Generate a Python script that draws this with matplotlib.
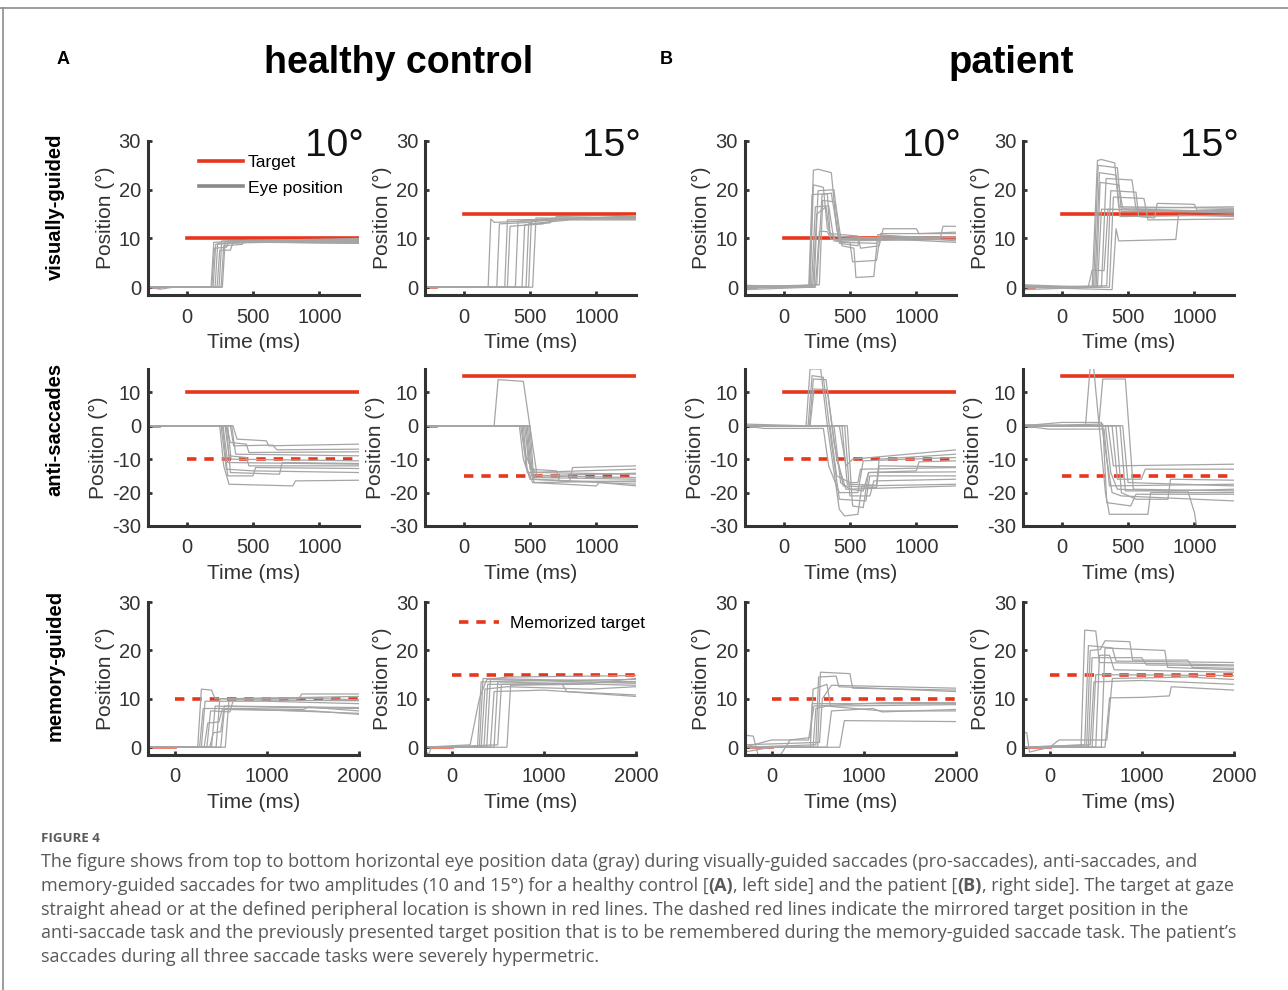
import matplotlib
matplotlib.use('Agg')
import matplotlib.pyplot as plt
from matplotlib.lines import Line2D

plt.rcParams['font.family'] = ['Liberation Sans', 'DejaVu Sans']
plt.rcParams['axes.unicode_minus'] = False

RED = '#e8361c'
GRAY = '#a5a5a5'
AXC = '#333333'

amplitudes = [10, 15]
row_names = ['visually-guided', 'anti-saccades', 'memory-guided']
group_names = ['healthy control', 'patient']

# eye traces as (time ms, position deg) breakpoints
hc_vg10 = [
    [(-290, 0), (185, 0), (205, 9.2), (400, 9.5), (1300, 9.5)],
    [(-290, 0.1), (200, 0), (220, 8.8), (500, 9.3), (1300, 9.0)],
    [(-290, 0), (215, 0), (235, 9.0), (1300, 9.6)],
    [(-290, 0), (230, 0), (250, 7.6), (330, 7.6), (350, 9.2), (1300, 9.2)],
    [(-290, 0), (245, 0), (265, 9.5), (1300, 9.8)],
    [(-290, 0), (260, 0), (280, 8.5), (420, 8.8), (440, 9.6), (1300, 9.4)],
    [(-290, 0), (-200, -0.4), (-100, 0), (270, 0), (290, 9.3), (1300, 9.0)],
    [(-290, 0), (190, 0), (210, 8.0), (300, 8.2), (320, 9.5), (1300, 10.0)],
]
hc_vg15 = [
    [(-290, 0), (185, 0), (205, 14.0), (230, 13.3), (400, 13.5), (700, 14.2), (1300, 14.3)],
    [(-290, 0), (250, 0), (270, 13.0), (500, 13.3), (600, 14.0), (1300, 14.5)],
    [(-290, 0), (310, 0), (330, 13.8), (1300, 14.2)],
    [(-290, 0), (330, 0), (350, 12.5), (600, 13.0), (700, 14.0), (1300, 14.0)],
    [(-290, 0), (390, 0), (410, 13.5), (1300, 14.5)],
    [(-290, 0), (440, 0), (460, 12.8), (650, 13.2), (700, 14.5), (1300, 14.2)],
    [(-290, 0), (490, 0), (510, 13.5), (1300, 14.7)],
    [(-290, 0), (520, 0), (545, 14.2), (1300, 14.0)],
    [(-290, 0), (470, 0), (490, 13.0), (800, 13.8), (1300, 13.8)],
]
pt_vg10 = [
    [(-290, 0), (195, 0), (225, 24), (260, 24.2), (360, 23.5), (400, 12), (430, 9.2), (700, 9.0), (740, 10.5), (1300, 10.2)],
    [(-290, -0.5), (200, 0), (225, 21), (300, 20.5), (330, 12), (400, 9.5), (1300, 9.8)],
    [(-290, 0.3), (190, 0.2), (215, 19), (330, 19.2), (350, 11), (560, 10.5), (580, 8), (720, 8.5), (750, 12.0), (1000, 12.0), (1020, 11.0), (1300, 11.3)],
    [(-290, 0), (230, 0), (260, 19.8), (380, 20), (420, 10), (1300, 10.3)],
    [(-290, 0.1), (270, 0.5), (295, 17.8), (390, 17.5), (440, 8.5), (530, 8.0), (545, 2.0), (680, 2.2), (710, 10.8), (1300, 9.5)],
    [(-290, 0), (210, 0), (240, 16.5), (340, 16.7), (380, 9.5), (500, 9.2), (520, 5.2), (700, 5.5), (730, 11.0), (1300, 11.0)],
    [(-290, 0), (240, 0), (270, 11.5), (330, 11.4), (360, 9.8), (1180, 10), (1200, 12.5), (1300, 12.5)],
    [(-290, 0.4), (220, 0), (250, 15), (320, 16.5), (350, 10.5), (1300, 9.2)],
    [(-290, -0.3), (250, 0.5), (290, 19), (360, 19.3), (420, 9.0), (560, 8.5), (570, 10.2), (1300, 9.8)],
]
pt_vg15 = [
    [(-290, 0.5), (230, 0), (270, 26), (300, 26.2), (400, 25.5), (430, 16.5), (1300, 16.2)],
    [(-290, 0), (240, 0), (275, 25), (420, 24.5), (450, 15.5), (1300, 15.8)],
    [(-290, -0.5), (250, 0), (285, 23.5), (410, 23), (440, 14.5), (1300, 14.8)],
    [(-290, 0.2), (300, 0), (335, 22.3), (530, 22.0), (560, 16.0), (1300, 15.5)],
    [(-290, 0), (340, 0.3), (370, 19.8), (560, 19.5), (580, 14.5), (700, 14.2), (720, 17.2), (1000, 17.0), (1020, 15.8), (1300, 16.0)],
    [(-290, 0), (360, 0), (390, 18.5), (620, 18.2), (650, 13.8), (1300, 14.0)],
    [(-290, 0.3), (200, 0), (230, 3.5), (320, 3.4), (350, 16.0), (1300, 15.2)],
    [(-290, 0), (380, -0.5), (410, 12), (430, 9.5), (860, 9.8), (880, 14.8), (1300, 14.5)],
    [(-290, 0), (260, 0), (290, 21.5), (430, 21.0), (460, 16.2), (1300, 16.5)],
    [(-290, 0.2), (270, 0), (300, 16.0), (1300, 15.5)],
]
hc_anti10 = [
    [(-290, 0), (250, 0), (280, -12), (320, -17.5), (800, -18.0), (820, -16.5), (1300, -16.3)],
    [(-290, 0), (260, 0), (300, -13), (500, -13.5), (1300, -14.0)],
    [(-290, 0), (275, 0), (310, -11), (1300, -11.5)],
    [(-290, 0), (290, 0), (320, -9), (450, -9.5), (470, -12), (1300, -12.0)],
    [(-290, 0), (300, 0), (330, -5), (450, -5.5), (470, -8), (1300, -7.8)],
    [(-290, 0), (310, 0), (335, -10), (1300, -10.5)],
    [(-290, 0), (330, 0), (355, -6), (650, -5.8), (680, -7.2), (1300, -7.0)],
    [(-290, 0), (350, 0), (380, -4), (600, -4.5), (620, -6.0), (1300, -5.5)],
    [(-290, 0), (270, 0), (310, -15), (500, -15.0), (520, -12.5), (1300, -12.8)],
    [(-290, 0), (340, 0), (370, -8.5), (1300, -9.0)],
    [(-290, 0), (300, 0), (330, -14), (700, -14.5), (720, -11), (1300, -11.3)],
]
hc_anti15 = [
    [(-290, 0), (230, 0), (260, 13.8), (450, 13.3), (550, -14), (1300, -14.5)],
    [(-290, 0), (420, 0), (450, -10), (500, -16), (1300, -17.5)],
    [(-290, 0), (430, 0), (460, -8), (540, -15.5), (1300, -16.0)],
    [(-290, 0), (440, 0), (470, -12), (520, -17), (1000, -18), (1020, -17), (1300, -18.0)],
    [(-290, 0), (450, 0), (480, -14), (1300, -13.0)],
    [(-290, 0), (460, 0), (490, -11), (560, -15), (1300, -15.5)],
    [(-290, 0), (470, 0), (500, -13), (700, -13.5), (720, -16.5), (1300, -16.8)],
    [(-290, 0), (480, 0), (510, -15), (1300, -14.2)],
    [(-290, 0), (490, 0), (520, -16), (800, -16.5), (820, -12.5), (1300, -12.0)],
    [(-290, 0), (500, 0), (530, -17), (1300, -16.5)],
]
pt_anti10 = [
    [(-290, 0.5), (170, 0), (200, 17), (280, 17), (330, 0), (420, -25), (460, -27), (560, -26.5), (590, -18), (1300, -17.5)],
    [(-290, 0), (185, 0), (215, 15), (300, 14.5), (360, -5), (420, -22), (620, -22.5), (650, -15), (1300, -15.0)],
    [(-290, 0), (195, 0), (225, 14), (320, 13.8), (380, -5), (450, -18), (700, -18.5), (720, -12), (1300, -12.3)],
    [(-290, 0), (200, 0), (230, 11), (330, 10.8), (400, -10), (470, -19), (1300, -18)],
    [(-290, 0), (-150, -0.8), (300, -0.8), (340, -12), (420, -20), (560, -20), (600, -10.5), (1300, -9.5)],
    [(-290, 0), (350, 0), (400, -15), (500, -17), (560, -17), (580, -13), (1300, -12.5)],
    [(-290, 0), (380, 0), (430, -17), (500, -19), (600, -19.5), (640, -14), (1000, -13.5), (1020, -10.8), (1300, -10.5)],
    [(-290, 0), (420, 0), (470, -12), (520, -10), (1300, -7.2)],
    [(-290, 0), (440, 0), (480, -17.5), (700, -17.8), (720, -10), (1300, -8.5)],
    [(-290, 0), (460, 0), (500, -21), (650, -21), (680, -16.5), (1300, -16.0)],
    [(-290, 0), (480, 0), (520, -24), (600, -24.5), (640, -14), (1300, -13.8)],
]
pt_anti15 = [
    [(-290, 0.3), (180, 0), (215, 17.5), (240, 18), (330, -20), (360, -26.5), (650, -26.5), (670, -20), (1300, -20.0)],
    [(-290, 0), (280, 0), (310, 14), (480, 14), (540, -19), (1300, -19.5)],
    [(-290, 0), (0, 1), (300, 1), (340, -10), (380, -20), (450, -21), (1300, -22.5)],
    [(-290, 0), (-100, -1), (320, -1), (360, -18), (1300, -17.5)],
    [(-290, 0), (330, 0), (370, -14), (420, -19), (800, -19.5), (1300, -19)],
    [(-290, 0), (350, 0), (390, -12), (1300, -11.5)],
    [(-290, 0), (380, 0), (420, -16), (600, -16), (630, -13), (1300, -13.0)],
    [(-290, 0), (410, 0), (450, -20), (560, -22), (800, -22), (820, -16), (1300, -16.3)],
    [(-290, 0), (440, 0), (480, -19.5), (950, -19.5), (1000, -26), (1020, -31)],
    [(-290, 0), (460, 0), (500, -17), (1300, -18.0)],
    [(-290, 0), (310, 0.5), (340, -23), (520, -24), (560, -20.5), (1300, -20.5)],
]
hc_mem10 = [
    [(-300, 0), (250, 0), (290, 12), (400, 11.8), (440, 10), (1300, 10.2), (2000, 9.8)],
    [(-300, 0), (270, 0), (310, 8), (700, 8.0), (1400, 7.8), (1450, 8.3), (2000, 7.5)],
    [(-300, 0), (290, 0), (330, 9.5), (1000, 9.5), (2000, 9.0)],
    [(-300, 0), (320, 0), (360, 5), (480, 5.2), (520, 8.0), (1300, 7.5), (2000, 7.0)],
    [(-300, 0), (350, 0), (390, 7.5), (600, 7.3), (640, 10.0), (2000, 10.5)],
    [(-300, 0), (400, 0), (440, 8.5), (1000, 8.3), (2000, 8.0)],
    [(-300, 0), (450, 0), (490, 10), (1350, 10), (1380, 11.0), (2000, 11.0)],
    [(-300, 0), (500, 0), (540, 7.8), (1500, 7.5), (2000, 6.8)],
    [(-300, 0), (550, 0), (590, 9.8), (2000, 9.6)],
    [(-300, 0), (380, 0), (420, 3), (500, 3.2), (540, 8.5), (2000, 8.2)],
]
hc_mem15 = [
    [(-300, 0), (200, 0.5), (300, 10), (380, 14.0), (600, 14.5), (2000, 14.8)],
    [(-300, 0), (280, 0), (320, 13.5), (1000, 13.8), (2000, 14.0)],
    [(-300, 0), (300, 0), (340, 14.2), (900, 14.0), (2000, 13.5)],
    [(-300, 0), (320, 0), (360, 12), (600, 12.5), (1500, 12.0), (2000, 12.5)],
    [(-300, 0), (350, 0), (390, 13), (1200, 13), (1250, 11.5), (2000, 10.8)],
    [(-300, 0), (380, 0), (420, 14), (2000, 13.2)],
    [(-300, 0), (420, 0), (460, 11.5), (1000, 11.8), (2000, 10.5)],
    [(-300, 0), (460, 0), (500, 13.5), (2000, 12.8)],
    [(-300, 0), (600, 0), (640, 12.8), (1400, 13.0), (2000, 14.2)],
    [(-300, -0.5), (-250, -1.5), (-220, 0), (500, 0.5), (540, 13.0), (2000, 13.5)],
]
pt_mem10 = [
    [(-300, 0), (500, 0), (530, 15.5), (850, 15.2), (880, 12.2), (2000, 11.8)],
    [(-300, 0), (480, 0.5), (510, 14.5), (700, 14.7), (730, 12.5), (2000, 11.5)],
    [(-300, 2.5), (-200, 2.3), (-150, -1.5), (100, -1.5), (200, 1.5), (420, 2), (440, 9), (700, 9), (2000, 9.0)],
    [(-300, 0), (450, 0), (480, 8), (600, 8.5), (1200, 7.5), (2000, 7.5)],
    [(-300, 0), (740, 0), (790, 5.5), (2000, 5.3)],
    [(-300, 0.5), (520, 1), (550, 10), (650, 12.8), (2000, 12.2)],
    [(-300, 0), (0, 1.5), (400, 1.5), (460, 8.5), (1200, 9.2), (2000, 9.2)],
    [(-300, -1), (0, 0), (600, 0), (650, 7.5), (1100, 8.0), (1200, 7.3), (2000, 7.8)],
    [(-300, 0), (420, 0), (450, 12), (600, 13), (640, 8.5), (2000, 8.8)],
]
pt_mem15 = [
    [(-300, 0), (340, 0), (380, 24.2), (500, 24.0), (540, 17.5), (2000, 17.0)],
    [(-300, 0), (380, 0.5), (420, 21), (680, 20.5), (720, 17.8), (2000, 17.5)],
    [(-300, 0), (400, 0), (440, 20), (550, 20.2), (600, 22), (870, 21.8), (900, 18), (1500, 18), (1550, 16.5), (2000, 16.3)],
    [(-300, 0), (420, 0), (460, 18.5), (1000, 18.5), (1050, 17), (2000, 16.8)],
    [(-300, 0), (440, 0.5), (480, 13.5), (1000, 13.8), (2000, 13.0)],
    [(-300, 0), (460, 0), (500, 15), (2000, 14.8)],
    [(-300, 0), (500, 0), (540, 19), (650, 19), (700, 16), (2000, 15.5)],
    [(-300, 0), (600, 0), (650, 10.2), (1000, 10.3), (1300, 10.6), (1320, 12.5), (2000, 11.8)],
    [(-300, 3), (-250, 3), (-220, -1), (0, 0), (100, 1.5), (620, 1.5), (680, 14.2), (1500, 14.5), (2000, 14.0)],
    [(-300, 0), (560, 0), (600, 20.5), (1250, 20), (1280, 16.5), (2000, 16.0)],
]

traces = {
    ('vg', 0, 10): hc_vg10, ('vg', 0, 15): hc_vg15,
    ('vg', 1, 10): pt_vg10, ('vg', 1, 15): pt_vg15,
    ('anti', 0, 10): hc_anti10, ('anti', 0, 15): hc_anti15,
    ('anti', 1, 10): pt_anti10, ('anti', 1, 15): pt_anti15,
    ('mem', 0, 10): hc_mem10, ('mem', 0, 15): hc_mem15,
    ('mem', 1, 10): pt_mem10, ('mem', 1, 15): pt_mem15,
}
tasks = ['vg', 'anti', 'mem']
trial_end = {'vg': 1300, 'anti': 1300, 'mem': 2000}
fix_end = {'vg': -210, 'anti': -210, 'mem': 0}

fig = plt.figure(figsize=(12.88, 9.9), dpi=100)

# axes layout (figure fractions)
col_left = [0.1149, 0.3300, 0.5784, 0.7943]
col_w = 0.1640
row_bottom = [0.7020, 0.4687, 0.2374]
row_h = [0.1556, 0.1586, 0.1545]

xlims = {'vg': (-290, 1300), 'anti': (-290, 1300), 'mem': (-290, 2005)}
ylims = {'vg': (-1.6, 30), 'anti': (-30, 17), 'mem': (-1.6, 30)}
yticks = {'vg': [0, 10, 20, 30], 'anti': [-30, -20, -10, 0, 10], 'mem': [0, 10, 20, 30]}
xticks = {'vg': [0, 500, 1000], 'anti': [0, 500, 1000], 'mem': [0, 1000, 2000]}

axes = {}
for r, task in enumerate(tasks):
    for g in range(2):
        for k, amp in enumerate(amplitudes):
            c = g * 2 + k
            ax = fig.add_axes([col_left[c], row_bottom[r], col_w, row_h[r]])
            axes[(task, g, amp)] = ax
            t_end = trial_end[task]
            # fixation target at straight ahead
            ax.plot([-290, fix_end[task]], [0, 0], color=RED, lw=2.0, alpha=0.7, zorder=1)
            if task == 'vg':
                ax.plot([0, t_end], [amp, amp], color=RED, lw=2.6, zorder=1)
            elif task == 'anti':
                ax.plot([0, t_end], [amp, amp], color=RED, lw=2.6, zorder=1)
                ax.plot([0, t_end], [-amp, -amp], color=RED, lw=2.6, dashes=(2.6, 2.2), zorder=1)
            else:
                ax.plot([0, t_end], [amp, amp], color=RED, lw=2.6, dashes=(2.6, 2.2), zorder=1)
            for tr in traces[(task, g, amp)]:
                ax.plot([p[0] for p in tr], [p[1] for p in tr], color=GRAY, lw=0.9, zorder=2)

            ax.set_xlim(*xlims[task])
            ax.set_ylim(*ylims[task])
            ax.set_xticks(xticks[task])
            ax.set_yticks(yticks[task])
            for s in ['top', 'right']:
                ax.spines[s].set_visible(False)
            for s in ['left', 'bottom']:
                ax.spines[s].set_linewidth(2.2)
                ax.spines[s].set_color(AXC)
            ax.tick_params(direction='in', length=3, width=2, color=AXC,
                           labelcolor=AXC, labelsize=14.5)
            ax.tick_params(axis='x', pad=9)
            ax.tick_params(axis='y', pad=5)
            ax.set_xlabel('Time (ms)', fontsize=15, color=AXC, labelpad=5)
            ax.set_ylabel('Position (°)', fontsize=15, color=AXC, labelpad=3)
            ax.patch.set_alpha(0)
            if task == 'vg':
                ax.text(1.022, 0.90, f'{amp}°', transform=ax.transAxes, ha='right',
                        va='baseline', fontsize=28, color='#111111')

# legends
ax = axes[('vg', 0, 10)]
h = [Line2D([], [], color=RED, lw=2.6), Line2D([], [], color='#8a8a8a', lw=2.6)]
ax.legend(h, ['Target', 'Eye position'], loc='upper left', bbox_to_anchor=(0.21, 0.955),
          frameon=False, fontsize=12.5, handlelength=2.5, handletextpad=0.3,
          labelspacing=0.6, borderaxespad=0)
ax = axes[('mem', 0, 15)]
h = [Line2D([], [], color=RED, lw=2.6, dashes=(2.6, 2.2))]
ax.legend(h, ['Memorized target'], loc='upper left', bbox_to_anchor=(0.13, 0.955),
          frameon=False, fontsize=12.5, handlelength=2.3, handletextpad=0.6, borderaxespad=0)

# group titles and panel letters
fig.text(0.3098, 0.9364, group_names[0], ha='center', va='center', fontsize=27, weight='bold')
fig.text(0.7850, 0.9364, group_names[1], ha='center', va='center', fontsize=27.5, weight='bold')
fig.text(0.0489, 0.9394, 'A', ha='center', va='center', fontsize=13, weight='bold')
fig.text(0.5171, 0.9394, 'B', ha='center', va='center', fontsize=13, weight='bold')

for name, y in zip(row_names, [0.791, 0.566, 0.328]):
    fig.text(0.0427, y, name, rotation=90, ha='center', va='center', fontsize=14.5, weight='bold')

# frame lines of the figure box
fig.add_artist(Line2D([0, 1], [0.992, 0.992], transform=fig.transFigure, color='#8c8c8c', lw=1.2))
fig.add_artist(Line2D([0.0025, 0.0025], [0, 0.992], transform=fig.transFigure, color='#8c8c8c', lw=1.2))

# caption
cap = fig.add_axes([0, 0, 1, 1])
cap.axis('off')
cap.set_xlim(0, 1)
cap.set_ylim(0, 1)
CAP_FS = 13.0
CAP_C = '#595959'
CAP_FONT = ['Open Sans', 'DejaVu Sans']
cap.text(0.0318, 0.1535, 'FIGURE 4', fontsize=9.5, color='#5a5a5a', family=CAP_FONT,
         va='center', ha='left', weight='bold')

cap_lines = [
    [("The figure shows from top to bottom horizontal eye position data (gray) during visually-guided saccades (pro-saccades), anti-saccades, and", False)],
    [("memory-guided saccades for two amplitudes (10 and 15°) for a healthy control [", False), ("(A)", True),
     (", left side] and the patient [", False), ("(B)", True), (", right side]. The target at gaze", False)],
    [("straight ahead or at the defined peripheral location is shown in red lines. The dashed red lines indicate the mirrored target position in the", False)],
    [("anti-saccade task and the previously presented target position that is to be remembered during the memory-guided saccade task. The patient’s", False)],
    [("saccades during all three saccade tasks were severely hypermetric.", False)],
]
cap_y = [0.1293, 0.1050, 0.0808, 0.0576, 0.0333]
for parts, y in zip(cap_lines, cap_y):
    prev = None
    for txt, bold in parts:
        kw = dict(fontsize=CAP_FS, color=CAP_C, family=CAP_FONT,
                  weight='bold' if bold else 'normal', ha='left', va='center')
        if prev is None:
            prev = cap.text(0.0318, y, txt, **kw)
        else:
            prev = cap.annotate(txt, xy=(1, 0.5), xycoords=prev, **kw)

fig.savefig('out.png', dpi=100)
